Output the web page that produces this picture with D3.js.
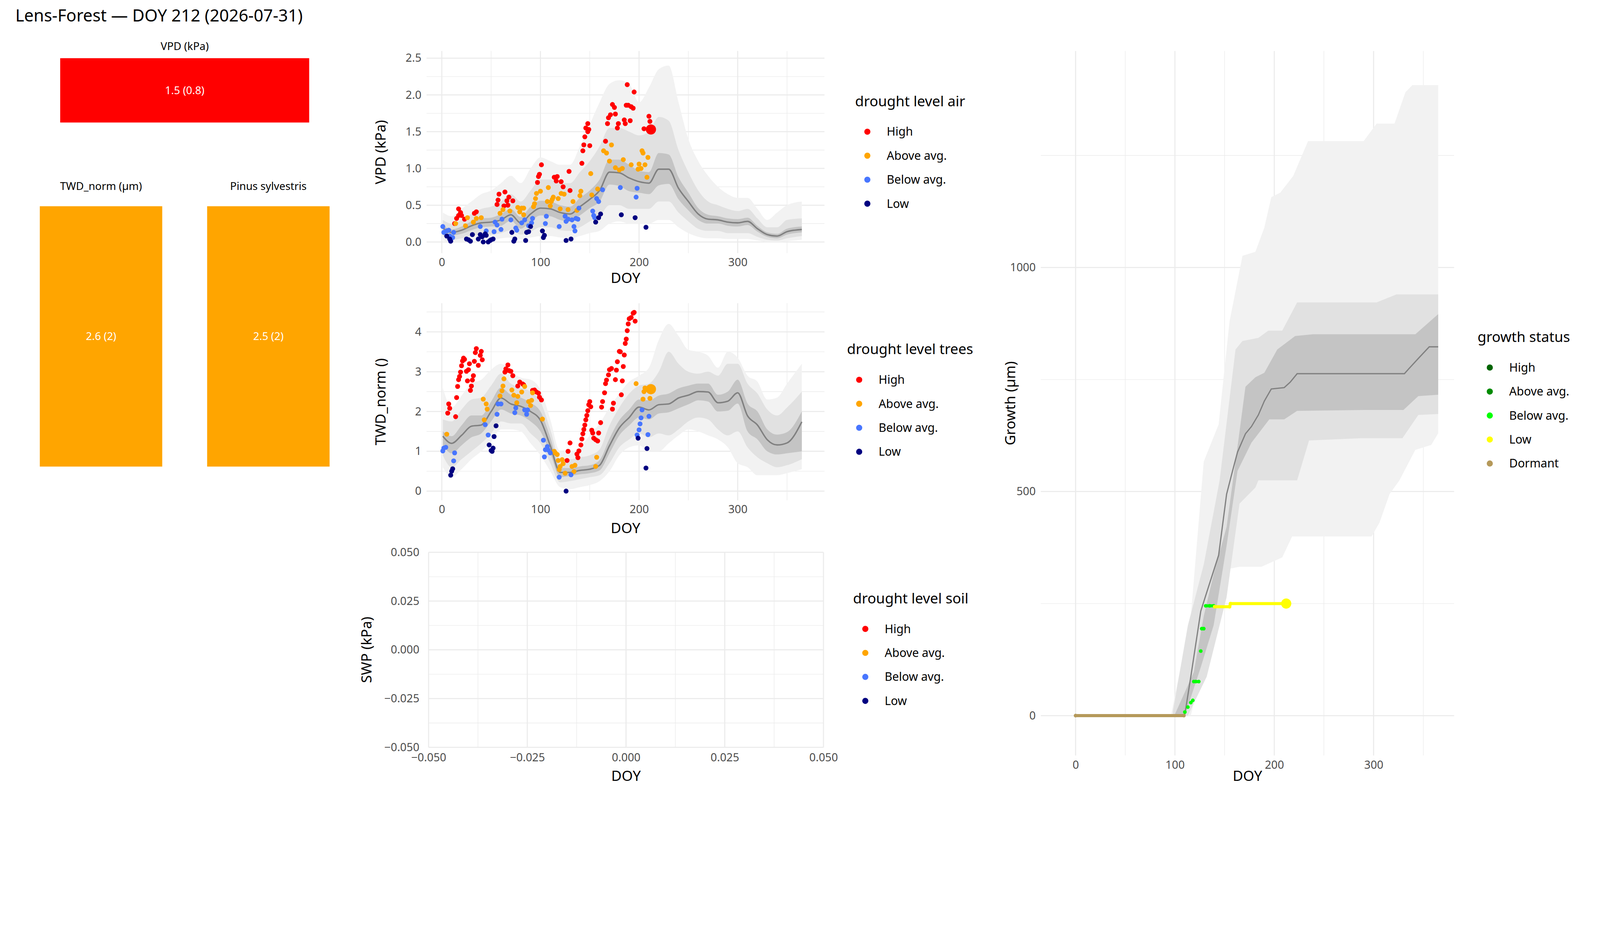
<!DOCTYPE html>
<html><head><meta charset="utf-8">
<script src="https://cdn.jsdelivr.net/npm/d3@7"></script>
<style>html,body{margin:0;padding:0;background:#fff;overflow:hidden;width:100vw;height:100vh}svg{display:block}text{font-family:"Noto Sans",sans-serif}</style>
</head><body>
<script>
// ---------- DATA ----------
const title = "Lens-Forest — DOY 212 (2026-07-31)";
const levelLabels = ["High","Above avg.","Below avg.","Low"];
const levelColors = ["#ff0000","#ffa500","#4876ff","#000080"];
const growthLabels = ["High","Above avg.","Below avg.","Low","Dormant"];
const growthColors = ["#006400","#008b00","#00ff00","#ffff00","#b5995a"];

const barVPD = {label:"VPD (kPa)", text:"1.5 (0.8)", color:"#ff0000"};
const barTWD = [{label:"TWD_norm (µm)", text:"2.6 (2)", color:"#ffa500"},{label:"Pinus sylvestris", text:"2.5 (2)", color:"#ffa500"}];

const bandDays = [1,10,20,30,40,50,60,70,80,90,100,110,120,130,140,150,160,170,180,190,200,210,220,230,240,250,260,270,280,290,300,310,320,330,340,350,365];
const vpdMed  = [0.19,0.13,0.16,0.22,0.26,0.27,0.30,0.37,0.26,0.38,0.46,0.45,0.40,0.38,0.48,0.58,0.70,0.95,0.94,0.87,0.82,0.80,0.99,0.99,0.73,0.55,0.38,0.31,0.30,0.27,0.26,0.28,0.18,0.10,0.08,0.14,0.17];
const vpdInLo = [0.15,0.09,0.11,0.16,0.20,0.21,0.22,0.29,0.18,0.28,0.36,0.35,0.30,0.28,0.36,0.46,0.55,0.78,0.76,0.69,0.67,0.65,0.77,0.79,0.58,0.43,0.30,0.25,0.25,0.22,0.21,0.23,0.14,0.07,0.05,0.10,0.13];
const vpdInHi = [0.23,0.17,0.21,0.28,0.32,0.33,0.38,0.45,0.34,0.48,0.56,0.55,0.50,0.48,0.60,0.70,0.85,1.12,1.12,1.05,0.97,0.95,1.21,1.19,0.88,0.67,0.46,0.37,0.35,0.32,0.31,0.33,0.22,0.13,0.11,0.18,0.21];
const vpdMidLo= [0.08,0.03,0.05,0.08,0.10,0.10,0.12,0.16,0.10,0.14,0.20,0.20,0.16,0.15,0.20,0.28,0.35,0.50,0.50,0.45,0.45,0.45,0.55,0.55,0.40,0.28,0.18,0.15,0.15,0.12,0.12,0.12,0.07,0.03,0.02,0.05,0.08];
const vpdMidHi= [0.30,0.25,0.30,0.38,0.45,0.48,0.55,0.65,0.55,0.70,0.85,0.85,0.80,0.80,0.95,1.10,1.30,1.55,1.55,1.50,1.45,1.50,1.70,1.65,1.25,0.95,0.70,0.55,0.50,0.45,0.42,0.45,0.32,0.20,0.20,0.30,0.32];
const vpdOutLo= [0.02,0.0,0.0,0.02,0.03,0.03,0.05,0.06,0.04,0.06,0.08,0.08,0.06,0.05,0.08,0.12,0.15,0.25,0.28,0.25,0.25,0.25,0.30,0.30,0.20,0.12,0.07,0.05,0.05,0.04,0.04,0.04,0.02,0.0,0.0,0.01,0.03];
const vpdOutHi= [0.40,0.35,0.45,0.55,0.65,0.70,0.80,0.90,0.80,1.00,1.15,1.10,1.05,1.05,1.30,1.60,1.90,2.15,2.20,2.15,1.90,2.10,2.35,2.40,1.90,1.40,1.10,0.90,0.75,0.65,0.60,0.60,0.45,0.30,0.40,0.50,0.55];

const twdMed  = [1.38,1.20,1.40,1.63,1.66,2.00,2.34,2.19,2.13,2.00,1.78,1.14,0.47,0.47,0.52,0.55,0.65,1.14,1.59,1.85,2.11,2.04,2.17,2.19,2.34,2.41,2.50,2.49,2.22,2.26,2.47,1.89,1.66,1.29,1.16,1.21,1.74];
const twdInLo = [1.15,0.95,1.15,1.35,1.45,1.75,2.05,1.95,1.90,1.75,1.50,0.95,0.35,0.38,0.42,0.45,0.52,0.95,1.40,1.65,1.85,1.80,1.95,1.98,2.08,2.18,2.28,2.25,2.00,2.02,2.20,1.50,1.30,1.00,0.92,0.95,1.00];
const twdInHi = [1.50,1.38,1.65,1.90,1.90,2.25,2.60,2.42,2.35,2.22,2.00,1.35,0.58,0.58,0.62,0.65,0.78,1.32,1.78,2.05,2.30,2.28,2.40,2.45,2.58,2.65,2.70,2.70,2.42,2.50,2.80,2.20,2.00,1.55,1.42,1.48,2.00];
const twdMidLo= [0.90,0.60,0.80,1.00,1.20,1.45,1.75,1.70,1.70,1.45,1.20,0.70,0.22,0.25,0.30,0.35,0.40,0.70,1.10,1.30,1.45,1.35,1.45,1.40,1.55,1.75,1.85,1.80,1.55,1.40,1.50,1.10,0.85,0.70,0.60,0.65,0.80];
const twdMidHi= [1.80,1.75,2.05,2.30,2.35,2.65,2.95,2.70,2.60,2.50,2.25,1.55,0.80,0.80,0.85,0.90,1.05,1.65,2.10,2.45,2.65,2.70,3.00,3.50,3.20,3.00,2.95,3.00,2.90,3.20,3.20,2.70,2.45,2.05,1.90,2.10,2.50];
const twdOutLo= [0.60,0.35,0.55,0.80,1.00,1.25,1.55,1.55,1.50,1.20,0.90,0.50,0.10,0.05,0.10,0.15,0.25,0.50,0.90,1.10,1.15,1.00,1.00,1.20,1.40,1.55,1.50,1.40,1.30,1.10,0.70,0.60,0.40,0.40,0.40,0.45,0.55];
const twdOutHi= [2.60,2.10,2.40,2.70,2.80,3.05,3.20,3.00,2.85,2.80,2.55,1.80,1.00,1.00,1.10,1.40,1.70,2.10,2.45,2.75,2.90,3.10,3.80,4.20,3.90,3.55,3.50,3.40,3.10,3.50,3.35,2.90,2.75,2.30,2.35,2.70,3.20];

// VPD observations [doy, value]
const vpdHigh = [[13,0.25],[15,0.32],[17,0.45],[17,0.36],[19,0.40],[20,0.36],[23,0.31],[33,0.39],[35,0.41],[56,0.51],[57,0.57],[58,0.65],[63,0.49],[64,0.68],[66,0.56],[67,0.50],[68,0.61],[72,0.56],[97,0.81],[98,0.89],[99,0.92],[101,1.05],[114,0.88],[116,0.83],[117,0.89],[121,0.82],[123,0.75],[129,0.96],[130,0.70],[142,1.07],[143,1.24],[144,1.32],[145,1.43],[146,1.55],[148,1.50],[148,1.61],[149,1.53],[150,1.31],[166,1.37],[168,1.61],[169,1.69],[171,1.73],[173,1.87],[175,1.83],[176,1.74],[178,1.55],[179,1.61],[185,1.66],[186,1.61],[187,1.86],[188,2.14],[189,1.86],[191,1.65],[192,1.84],[194,1.82],[195,2.04],[205,1.54],[210,1.71],[211,1.64]];
const vpdAbove = [[14,0.25],[24,0.22],[26,0.33],[32,0.27],[35,0.32],[40,0.33],[59,0.39],[62,0.44],[69,0.42],[77,0.47],[79,0.41],[81,0.46],[83,0.37],[83,0.46],[93,0.48],[94,0.52],[95,0.59],[96,0.66],[100,0.69],[107,0.55],[108,0.74],[110,0.49],[111,0.55],[112,0.58],[113,0.61],[118,0.59],[120,0.45],[121,0.66],[124,0.65],[128,0.44],[133,0.55],[137,0.43],[140,0.63],[141,0.69],[151,0.93],[152,0.64],[158,0.72],[164,1.24],[167,1.21],[170,1.10],[172,1.32],[176,1.01],[180,0.98],[183,1.00],[184,1.12],[192,1.05],[199,0.99],[200,1.06],[202,1.00],[203,1.24],[204,1.21],[206,1.05],[208,0.88],[209,1.15]];
const vpdBelow = [[1,0.21],[2,0.13],[5,0.15],[7,0.16],[8,0.08],[11,0.06],[12,0.13],[39,0.21],[45,0.15],[53,0.14],[54,0.27],[56,0.23],[60,0.17],[61,0.31],[70,0.30],[75,0.19],[76,0.16],[81,0.26],[84,0.30],[88,0.22],[91,0.26],[92,0.32],[105,0.25],[106,0.35],[119,0.21],[125,0.35],[126,0.28],[128,0.31],[132,0.30],[134,0.21],[135,0.15],[136,0.32],[138,0.31],[139,0.46],[153,0.42],[154,0.36],[155,0.33],[157,0.59],[159,0.55],[163,0.71],[181,0.74],[197,0.61],[198,0.73]];
const vpdLow = [[5,0.08],[8,0.04],[9,0.01],[25,0.04],[27,0.03],[29,0.01],[31,0.10],[37,0.04],[39,0.10],[41,0.07],[42,0.0],[44,0.11],[45,0.09],[47,0.0],[49,0.02],[50,0.03],[52,0.04],[71,0.13],[73,0.01],[74,0.04],[85,0.02],[86,0.13],[88,0.14],[90,0.21],[102,0.15],[103,0.06],[104,0.09],[126,0.02],[131,0.04],[156,0.27],[159,0.33],[161,0.38],[182,0.37],[196,0.33],[207,0.20]];
const vpdToday = [212,1.53,0];

const twdHigh = [[6,1.96],[7,2.19],[8,2.08],[14,1.87],[15,2.35],[16,2.63],[17,2.80],[18,2.88],[19,2.99],[20,3.15],[21,3.27],[22,3.34],[23,3.31],[25,3.01],[26,2.77],[27,3.05],[28,3.20],[29,2.53],[30,2.64],[31,2.79],[32,2.90],[33,3.26],[34,3.48],[35,3.58],[37,3.16],[39,3.41],[40,3.51],[41,3.30],[64,2.99],[65,3.07],[67,3.17],[68,3.03],[70,3.01],[72,2.90],[77,2.64],[79,2.74],[82,2.69],[83,2.67],[92,2.53],[94,2.54],[96,2.49],[98,2.46],[99,2.36],[101,2.29],[127,0.77],[128,1.00],[130,1.21],[137,0.93],[138,0.84],[139,1.01],[141,1.16],[142,1.31],[143,1.44],[144,1.55],[145,1.66],[146,1.79],[147,1.90],[148,2.02],[149,2.17],[150,2.25],[151,2.12],[152,1.53],[153,1.46],[154,1.33],[156,1.29],[158,1.26],[159,1.46],[161,1.72],[162,2.11],[163,2.25],[165,2.47],[166,2.70],[167,2.79],[169,2.92],[170,3.05],[172,3.08],[173,2.06],[174,2.21],[176,2.80],[177,3.04],[178,3.25],[180,3.51],[181,3.50],[182,2.42],[183,2.77],[184,3.13],[185,3.42],[186,3.71],[187,3.82],[188,4.03],[189,4.20],[190,4.33],[192,4.36],[194,4.47],[195,4.49],[196,4.27]];
const twdAbove = [[5,1.43],[42,2.31],[43,1.79],[45,2.19],[46,2.06],[59,2.39],[61,2.52],[62,2.64],[63,2.82],[71,2.54],[73,2.41],[76,2.22],[77,2.38],[81,2.49],[84,2.63],[88,2.25],[90,2.15],[91,2.28],[92,2.47],[102,1.81],[114,1.00],[115,0.96],[117,0.92],[118,0.77],[119,0.54],[120,0.62],[122,0.79],[123,0.69],[125,0.45],[132,0.62],[134,0.49],[135,0.65],[156,0.62],[157,0.85],[197,2.70],[204,2.31],[205,2.50],[206,2.59],[211,2.33]];
const twdBelow = [[1,1.01],[2,1.08],[4,1.10],[12,0.76],[13,0.96],[44,1.67],[47,1.41],[56,1.93],[57,2.19],[60,2.19],[74,1.97],[75,2.09],[84,2.04],[86,1.93],[87,2.04],[103,1.28],[104,0.86],[105,1.04],[107,1.12],[108,1.03],[110,0.96],[119,0.35],[131,0.41],[198,1.41],[200,1.54],[201,1.69],[202,1.84],[203,2.04],[209,1.42],[210,1.88]];
const twdLow = [[9,0.40],[10,0.50],[11,0.56],[48,1.16],[50,1.02],[51,1.00],[52,1.08],[53,1.37],[55,1.64],[126,0.0],[199,1.33],[207,0.58],[208,1.07]];
const twdToday = [212,2.56,1];

// Growth
const gMedDays = [0,108,110,116,126,132,144,152,158,163,171,177,184,190,197,210,216,223,229,331,335,345,356,365];
const gMed     = [0,0,3,87,233,275,358,494,546,588,629,645,671,702,729,732,744,763,763,763,773,797,823,823];
const gInHiD = [100,119,129,139,152,161,171,181,190,203,221,239,342,365];
const gInHi  = [3,97,222,316,421,567,734,755,765,817,847,851,851,896];
const gInLoD = [100,110,126,139,152,163,177,195,210,223,290,330,345,365];
const gInLo  = [0,0,108,202,379,546,609,661,661,680,682,682,713,716];
const gMidHiD = [98,113,129,145,161,168,184,194,208,223,248,303,323,365];
const gMidHi  = [10,201,337,525,817,836,843,859,859,922,922,922,940,940];
const gMidLoD = [98,113,132,152,165,181,184,223,235,287,329,345,365];
const gMidLo  = [0,0,87,264,473,509,525,525,614,619,619,671,673];
const gOutHiD = [96,116,129,144,155,168,181,190,197,206,219,234,290,303,321,332,339,365];
const gOutHi  = [0,222,567,650,880,1026,1035,1089,1157,1167,1204,1282,1282,1321,1321,1391,1407,1407];
const gOutLoD = [96,116,135,153,165,187,208,218,261,298,306,316,326,342,358,365];
const gOutLo  = [0,0,181,327,332,332,353,400,400,400,431,494,525,593,604,630];
const gDormant = [[0,0],[109,0]];
const gBelow = [[110,8],[113,19],[116,29],[118,34],[119,76],[121,76],[124,76],[126,144],[127,194],[129,194],[131,245],[135,245],[139,245]];
const gLowObs = [[140,243],[155,243],[156,250],[212,250]];

// ---------- DRAW ----------
const K = 4800/1568;
const W=4800,H=2400;
const svg=d3.select("body").append("svg").attr("viewBox",`0 0 ${W} ${H}`).attr("preserveAspectRatio","xMinYMin meet").style("width","100vw").style("height","100vh");
const GRID="#ebebeb", TICK="#4d4d4d";
const fs = {tick:11*K, axis:14*K, leg:14*K, legItem:11.5*K};

svg.append("text").attr("x",15*K).attr("y",21*K).attr("font-size",16.5*K).text(title);

function bar(b,x0,x1,y0,y1,ty){
  svg.append("text").attr("x",(x0+x1)/2*K).attr("y",ty*K).attr("text-anchor","middle").attr("font-size",10.5*K).text(b.label);
  svg.append("rect").attr("x",x0*K).attr("y",y0*K).attr("width",(x1-x0)*K).attr("height",(y1-y0)*K).attr("fill",b.color);
  svg.append("text").attr("x",(x0+x1)/2*K).attr("y",(y0+y1)/2*K).attr("dy","0.35em").attr("text-anchor","middle").attr("fill","#fff").attr("font-size",10.5*K).text(b.text);
}
bar(barVPD,59,303,57,120,49);
bar(barTWD[0],39,159,202,457,186);
bar(barTWD[1],203,323,202,457,186);

function panel(o){
  const x=d3.scaleLinear().domain(o.xd).range([o.x0*K,o.x1*K]);
  const y=d3.scaleLinear().domain(o.yd).range([o.y1*K,o.y0*K]);
  const g=svg.append("g");
  o.xminor.forEach(v=>g.append("line").attr("x1",x(v)).attr("x2",x(v)).attr("y1",o.y0*K).attr("y2",o.y1*K).attr("stroke",GRID).attr("stroke-width",1.6));
  o.yminor.forEach(v=>g.append("line").attr("y1",y(v)).attr("y2",y(v)).attr("x1",o.x0*K).attr("x2",o.x1*K).attr("stroke",GRID).attr("stroke-width",1.6));
  o.xticks.forEach(v=>g.append("line").attr("x1",x(v)).attr("x2",x(v)).attr("y1",o.y0*K).attr("y2",o.y1*K).attr("stroke",GRID).attr("stroke-width",3.2));
  o.yticks.forEach(v=>g.append("line").attr("y1",y(v)).attr("y2",y(v)).attr("x1",o.x0*K).attr("x2",o.x1*K).attr("stroke",GRID).attr("stroke-width",3.2));
  const xa=d3.axisBottom(x).tickValues(o.xticks).tickFormat(o.xfmt||d3.format("d")).tickSize(0).tickPadding((o.xpad||5)*K);
  const ya=d3.axisLeft(y).tickValues(o.yticks).tickFormat(o.yfmt).tickSize(0).tickPadding((o.ypad||5)*K);
  const ax=g.append("g").attr("transform",`translate(0,${o.y1*K})`).call(xa);
  const ay=g.append("g").attr("transform",`translate(${o.x0*K},0)`).call(ya);
  [ax,ay].forEach(a=>{a.select(".domain").remove();a.selectAll("text").attr("fill",TICK).attr("font-size",fs.tick).attr("font-family","Noto Sans");});
  g.append("text").attr("x",(o.x0+o.x1)/2*K).attr("y",o.xt*K).attr("text-anchor","middle").attr("font-size",fs.axis).text("DOY");
  g.append("text").attr("transform",`translate(${o.ytx*K},${(o.y0+o.y1)/2*K}) rotate(-90)`).attr("text-anchor","middle").attr("font-size",fs.axis).text(o.ylab);
  return {x,y,g};
}
function legend(tx,ty,ttl,labels,colors){
  svg.append("text").attr("x",tx*K).attr("y",ty*K).attr("font-size",fs.leg).text(ttl);
  labels.forEach((l,i)=>{
    const yy=(ty+25+i*23.5)*K;
    svg.append("circle").attr("cx",(tx+12)*K).attr("cy",yy).attr("r",3*K).attr("fill",colors[i]);
    svg.append("text").attr("x",(tx+31)*K).attr("y",yy).attr("dy","0.35em").attr("font-size",fs.legItem).text(l);
  });
}
function ribbons(p,days,bands,med){
  const cols=["#f2f2f2","#e1e1e1","#c4c4c4"];
  bands.forEach((b,i)=>{
    const area=d3.area().x((d,j)=>p.x(days[j])).y0((d,j)=>p.y(b[0][j])).y1((d,j)=>p.y(b[1][j])).curve(d3.curveMonotoneX);
    p.g.append("path").attr("d",area(days)).attr("fill",cols[i]);
  });
  const line=d3.line().x((d,j)=>p.x(days[j])).y((d,j)=>p.y(med[j])).curve(d3.curveMonotoneX);
  p.g.append("path").attr("d",line(days)).attr("fill","none").attr("stroke","#808080").attr("stroke-width",1.4*K);
}
function pts(p,sets,today){
  sets.forEach((s,i)=>s.forEach(d=>p.g.append("circle").attr("cx",p.x(d[0])).attr("cy",p.y(d[1])).attr("r",2.4*K).attr("fill",levelColors[i])));
  p.g.append("circle").attr("cx",p.x(today[0])).attr("cy",p.y(today[1])).attr("r",5*K).attr("fill",levelColors[today[2]]);
}

const p1=panel({x0:418,x1:808,y0:50,y1:248,xd:[-15.5,388],yd:[-0.153,2.597],
  xticks:[0,100,200,300],xminor:[50,150,250,350],yticks:[0,0.5,1,1.5,2,2.5],yminor:[0.25,0.75,1.25,1.75,2.25],
  yfmt:d3.format(".1f"),xt:277,ytx:378,ylab:"VPD (kPa)"});
ribbons(p1,bandDays,[[vpdOutLo,vpdOutHi],[vpdMidLo,vpdMidHi],[vpdInLo,vpdInHi]],vpdMed);
pts(p1,[vpdHigh,vpdAbove,vpdBelow,vpdLow],vpdToday);
legend(838,104,"drought level air",levelLabels,levelColors);

const p2=panel({x0:418,x1:808,y0:297,y1:490,xd:[-15.5,388],yd:[-0.23,4.72],
  xticks:[0,100,200,300],xminor:[50,150,250,350],yticks:[0,1,2,3,4],yminor:[0.5,1.5,2.5,3.5,4.5],
  yfmt:d3.format("d"),xt:522,ytx:378,ylab:"TWD_norm ()"});
ribbons(p2,bandDays,[[twdOutLo,twdOutHi],[twdMidLo,twdMidHi],[twdInLo,twdInHi]],twdMed);
pts(p2,[twdHigh,twdAbove,twdBelow,twdLow],twdToday);
legend(830,347,"drought level trees",levelLabels,levelColors);

panel({x0:420,x1:807,y0:541,y1:732,xd:[-0.05,0.05],yd:[-0.05,0.05],
  xticks:[-0.05,-0.025,0,0.025,0.05],xminor:[-0.0375,-0.0125,0.0125,0.0375],yticks:[-0.05,-0.025,0,0.025,0.05],yminor:[-0.0375,-0.0125,0.0125,0.0375],
  xfmt:d3.format(".3f"),yfmt:d3.format(".3f"),xpad:6,ypad:9,xt:765,ytx:364,ylab:"SWP (kPa)"});
legend(836,591,"drought level soil",levelLabels,levelColors);

const p4=panel({x0:1020,x1:1425,y0:50,y1:740,xd:[-35,381],yd:[-89,1483],
  xticks:[0,100,200,300],xminor:[50,150,250,350],yticks:[0,500,1000],yminor:[250,750,1250],
  yfmt:d3.format("d"),xt:765,ytx:995,ylab:"Growth (µm)"});
function gArea(dHi,hi,dLo,lo,col){
  const top=dHi.map((d,i)=>[p4.x(d),p4.y(hi[i])]);
  const bot=dLo.map((d,i)=>[p4.x(d),p4.y(lo[i])]).reverse();
  p4.g.append("path").attr("d",d3.line()(top.concat(bot))+"Z").attr("fill",col);
}
gArea(gOutHiD,gOutHi,gOutLoD,gOutLo,"#f2f2f2");
gArea(gMidHiD,gMidHi,gMidLoD,gMidLo,"#e1e1e1");
gArea(gInHiD,gInHi,gInLoD,gInLo,"#c4c4c4");
p4.g.append("path").attr("d",d3.line().x(d=>p4.x(d[0])).y(d=>p4.y(d[1]))(gMedDays.map((d,i)=>[d,gMed[i]]))).attr("fill","none").attr("stroke","#808080").attr("stroke-width",1.2*K);
function gObs(arr,col){
  p4.g.append("path").attr("d",d3.line().x(d=>p4.x(d[0])).y(d=>p4.y(d[1]))(arr)).attr("fill","none").attr("stroke",col).attr("stroke-width",3*K).attr("stroke-linecap","round");
  arr.forEach(d=>p4.g.append("circle").attr("cx",p4.x(d[0])).attr("cy",p4.y(d[1])).attr("r",1.8*K).attr("fill",col));
}
gObs(gDormant,growthColors[4]);
for(let i=0;i<gBelow.length-1;i++){
  const a=gBelow[i],b=gBelow[i+1];
  if(a[1]===b[1]) p4.g.append("line").attr("x1",p4.x(a[0])).attr("x2",p4.x(b[0])).attr("y1",p4.y(a[1])).attr("y2",p4.y(b[1])).attr("stroke",growthColors[2]).attr("stroke-width",3*K).attr("stroke-linecap","round");
}
gBelow.forEach(d=>p4.g.append("circle").attr("cx",p4.x(d[0])).attr("cy",p4.y(d[1])).attr("r",1.8*K).attr("fill",growthColors[2]));
gObs(gLowObs,growthColors[3]);
p4.g.append("circle").attr("cx",p4.x(212)).attr("cy",p4.y(250)).attr("r",5*K).attr("fill",growthColors[3]);
legend(1448,335,"growth status",growthLabels,growthColors);
</script>
</body></html>
